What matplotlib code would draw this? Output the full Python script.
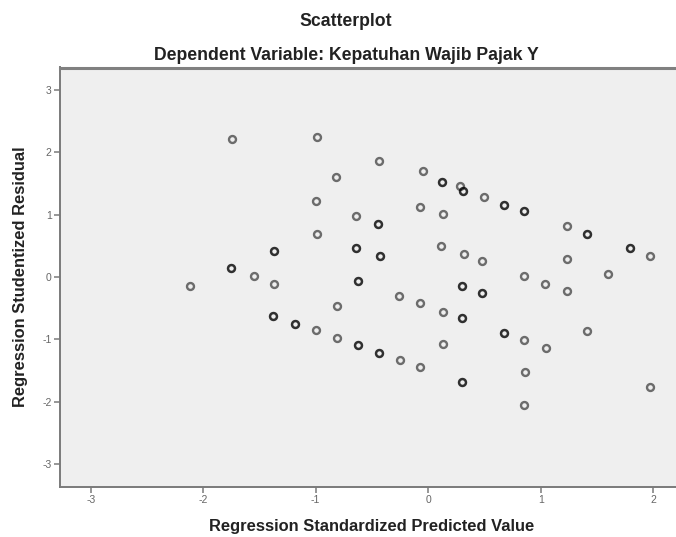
import matplotlib
matplotlib.use("Agg")
import matplotlib.pyplot as plt

# Regression standardized predicted value (x) and studentized residual (y).
# Points that look darker in the picture are overlapping cases, listed twice.
pred = [
    -1.74, -0.99, -0.82, -1.00, -0.64, -0.99, -1.55, -1.37, -2.12, -0.81,
    -0.44, -0.05, 0.28, 0.50, -0.07, 0.13, 1.23, 0.11, 0.32, 0.48,
    1.23, 1.97, 0.85, 1.04, 1.23, 1.60, -0.26, -0.07, 0.13, 0.85,
    1.05, 1.41, -0.25, -0.07, 0.13, 0.86, 0.85, 1.97, -1.00, -0.81,
    # overlapping cases
    -0.64, -0.64, -1.37, -1.37, -1.75, -1.75, -0.62, -0.62, 0.12, 0.12,
    0.31, 0.31, 0.67, 0.67, 0.85, 0.85, -0.45, -0.45, 1.41, 1.41,
    -0.43, -0.43, 1.79, 1.79, 0.30, 0.30, 0.48, 0.48, 0.30, 0.30,
    0.67, 0.67, -0.44, -0.44, 0.30, 0.30, -1.38, -1.38, -1.18, -1.18,
    -0.62, -0.62,
]
resid = [
    2.21, 2.24, 1.60, 1.21, 0.98, 0.69, 0.01, -0.11, -0.14, -0.46,
    1.86, 1.70, 1.46, 1.28, 1.12, 1.01, 0.81, 0.49, 0.37, 0.26,
    0.29, 0.34, 0.02, -0.11, -0.23, 0.05, -0.30, -0.42, -0.56, -1.01,
    -1.14, -0.86, -1.33, -1.45, -1.07, -1.53, -2.05, -1.76, -0.85, -0.98,
    # overlapping cases
    0.46, 0.46, 0.41, 0.41, 0.14, 0.14, -0.07, -0.07, 1.52, 1.52,
    1.38, 1.38, 1.16, 1.16, 1.05, 1.05, 0.85, 0.85, 0.69, 0.69,
    0.33, 0.33, 0.46, 0.46, -0.14, -0.14, -0.26, -0.26, -0.66, -0.66,
    -0.90, -0.90, -1.22, -1.22, -1.68, -1.68, -0.63, -0.63, -0.75, -0.75,
    -1.09, -1.09,
]

xticks = [-3, -2, -1, 0, 1, 2]
yticks = [-3, -2, -1, 0, 1, 2, 3]

title = "Scatterplot"
subtitle = "Dependent Variable: Kepatuhan Wajib Pajak Y"
xlabel = "Regression Standardized Predicted Value"
ylabel = "Regression Studentized Residual"

plt.rcParams['font.family'] = ['Liberation Sans', 'DejaVu Sans']
plt.rcParams['axes.unicode_minus'] = False  # SPSS uses a plain hyphen

fig = plt.figure(figsize=(6.76, 5.37), dpi=100)
fig.patch.set_facecolor('white')

# axes box runs off the right edge like in the screenshot
ax = fig.add_axes([60 / 676, (537 - 486.7) / 537, 622 / 676, 419.2 / 537])
ax.set_facecolor('#efefef')

ax.plot(pred, resid, linestyle='none', marker='o', markersize=5.0,
        markerfacecolor='none', markeredgecolor='black',
        markeredgewidth=1.7, alpha=0.55)

ax.set_xlim(-3.273, 2.256)
ax.set_ylim(-3.362, 3.358)
ax.set_xticks(xticks)
ax.set_yticks(yticks)
ax.tick_params(axis='both', direction='out', length=4.5, width=1.1,
               color='#7a7a7a', labelsize=7.5, labelcolor='#666666', pad=1.5)

for side in ['left', 'bottom']:
    ax.spines[side].set_color('#7a7a7a')
    ax.spines[side].set_linewidth(1.4)
ax.spines['top'].set_color('#808080')
ax.spines['top'].set_linewidth(2.2)
ax.spines['right'].set_visible(False)

fig.text(346 / 676, 1 - 21.5 / 537, title, ha='center', va='center',
         fontsize=12.7, fontweight='bold', color='#222222')
fig.text(346 / 676, 1 - 55 / 537, subtitle, ha='center', va='center',
         fontsize=12.7, fontweight='bold', color='#222222')
fig.text(372 / 676, 1 - 526 / 537, xlabel, ha='center', va='center',
         fontsize=11.9, fontweight='bold', color='#222222')
fig.text(21 / 676, 1 - 276.5 / 537, ylabel, ha='center', va='center',
         rotation=90, fontsize=11.9, fontweight='bold', color='#222222')

fig.savefig('out.png', dpi=100)
plt.close(fig)
